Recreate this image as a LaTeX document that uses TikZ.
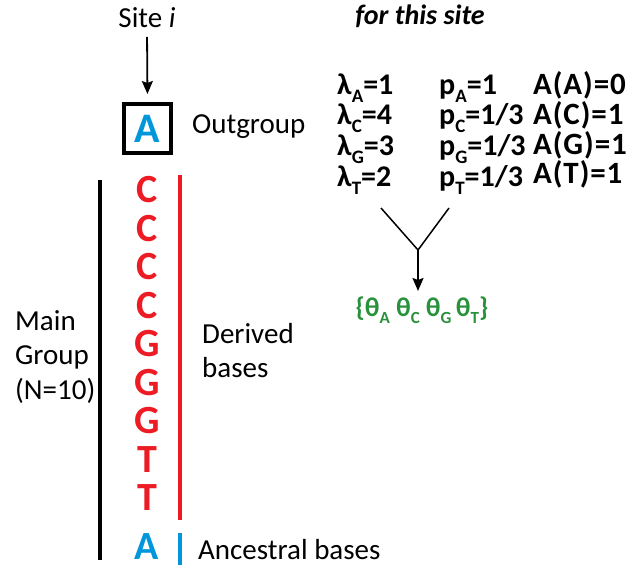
\documentclass[tikz,border=0pt]{standalone}
\usepackage{fontspec}
\setmainfont{Carlito}
\usetikzlibrary{arrows.meta}
\definecolor{basered}{RGB}{237,28,36}
\definecolor{baseblue}{RGB}{0,150,220}
\definecolor{thetagreen}{RGB}{40,145,60}
\newcommand{\lsub}[1]{\raisebox{-8pt}{\fontsize{19}{19}\selectfont #1}}
\newcommand{\tsub}[1]{\raisebox{-7pt}{\fontsize{17}{17}\selectfont #1}}
\begin{document}
\begin{tikzpicture}[x=1pt,y=-1pt,
  txt/.style={font=\fontsize{29}{34.5}\selectfont, inner sep=0pt},
  basel/.style={font=\fontsize{40}{40}\selectfont\bfseries, inner sep=0pt},
  tab/.style={font=\fontsize{30}{30}\selectfont\bfseries, inner sep=0pt, anchor=base west},
  tabw/.style={tab, font=\fontsize{31}{31}\selectfont\bfseries\addfontfeature{LetterSpace=3}},
  arr/.style={line width=1.8pt, -{Stealth[length=13pt,width=11pt,inset=2pt]}},
  vbar/.style={line width=4pt}]
\useasboundingbox (0,0) rectangle (629,569);

% site and outgroup
\node[txt] (site) at (147,18) {Site \textit{i}};
\node[draw, line width=4pt, minimum width=47pt, minimum height=49pt, inner sep=0pt] (out) at (147.5,128.5) {};
\node[basel, text=baseblue, font=\fontsize{42}{42}\selectfont\bfseries] (outA) at (out.center) {A};
\draw[arr, shorten <=7pt, shorten >=8pt] (147,18) ++(0,12) -- (out.north);
\node[txt, anchor=west] (outlbl) at (192,127) {Outgroup};

% main group column
\foreach \l [count=\i] in {C,C,C,C,G,G,G,T,T}{
  \node[basel, text=basered] (b\i) at (147,{190+38.5*(\i-1)}) {\l};
}
\node[basel, text=baseblue] (anc) at (147,547) {A};

\draw[vbar, black] (100,180) -- (100,560);
\draw[vbar, basered] (180,175) -- (180,520);
\draw[vbar, baseblue] (180,533) -- (180,565);

\node[txt, anchor=west, align=left] (main) at (15,357) {Main\\Group\\(N=10)};
\node[txt, anchor=west, align=left] (der) at (202,350.5) {Derived\\bases};
\node[txt, anchor=west] (ancl) at (198,550) {Ancestral bases};

% table
\node[font=\fontsize{28}{28}\selectfont\bfseries\itshape, inner sep=0pt, anchor=base] (fts) at (420,25) {for this site};
\node[tab] (lA) at (337,95) {λ\lsub{A}=1};
\node[tab] (lC) at (337,125) {λ\lsub{C}=4};
\node[tab] (lG) at (337,156) {λ\lsub{G}=3};
\node[tab] (lT) at (337,187) {λ\lsub{T}=2};
\node[tab] (pA) at (439,95) {p\lsub{A}=1};
\node[tab] (pC) at (439,125) {p\lsub{C}=1/3};
\node[tab] (pG) at (439,156) {p\lsub{G}=1/3};
\node[tab] (pT) at (439,187) {p\lsub{T}=1/3};
\node[tabw] (aA) at (533,95) {A(A)=0};
\node[tabw] (aC) at (533,125) {A(C)=1};
\node[tabw] (aG) at (533,155) {A(G)=1};
\node[tabw] (aT) at (533,184) {A(T)=1};

% Y connector
\coordinate (ly) at (381,208);
\coordinate (ry) at (449,208);
\coordinate (yj) at (418,250);
\node[font=\fontsize{27}{27}\selectfont\bfseries, text=thetagreen, inner sep=0pt] (theta) at (422,310) {\{θ\tsub{A}~θ\tsub{C}~θ\tsub{G}\,θ\tsub{T}\}};
\draw[line width=1.5pt] (ly) -- (yj) -- (ry);
\draw[arr] (yj) -- (418,291);
\end{tikzpicture}
\end{document}
